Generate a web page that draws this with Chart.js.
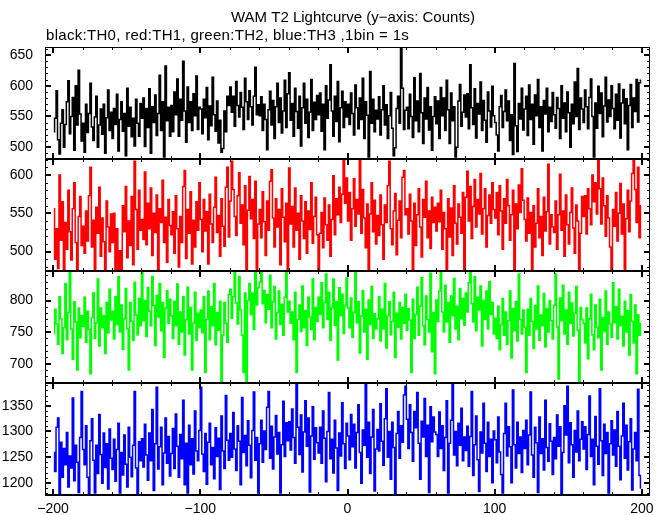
<!DOCTYPE html>
<html><head><meta charset="utf-8">
<script src="https://cdn.jsdelivr.net/npm/chart.js@4/dist/chart.umd.min.js"></script>
<style>html,body{margin:0;padding:0;background:#fff}#wrap{position:relative;width:669px;height:515px}</style>
</head><body><div id="wrap"><canvas id="c" width="669" height="515"></canvas></div>
<script>
const titleText = 'WAM T2 Lightcurve (y\u2212axis: Counts)';
const subtitleText = 'black:TH0, red:TH1, green:TH2, blue:TH3 ,1bin = 1s';
const firstBinStart = -200;
const binSeconds = 1;
const seriesNames = ['TH0', 'TH1', 'TH2', 'TH3'];
const seriesColors = ['#000000', '#ff0000', '#00ff00', '#0000ff'];

const th0 = [
525,547,592,512,489,539,561,500,537,574,608,522,550,581,495,600,536,625,554,510,
539,492,570,524,555,604,533,511,549,583,500,536,562,521,570,490,548,593,527,557,
514,563,537,586,494,545,574,526,555,486,596,534,565,517,547,502,578,539,518,571,
547,580,501,563,532,595,490,566,540,585,519,555,617,527,574,484,632,543,565,518,
568,525,590,553,611,518,578,544,640,559,508,598,540,574,527,587,551,616,529,565,
562,522,578,548,597,512,567,535,614,553,526,575,507,544,492,498,559,525,583,568,
598,557,583,534,607,568,549,589,565,529,612,574,545,592,566,536,583,630,553,569,
551,582,527,570,545,496,561,591,536,576,514,566,604,540,580,523,559,609,532,587,
621,544,571,518,596,558,531,583,502,564,604,539,578,516,557,610,527,573,545,584,
553,588,526,570,496,600,547,577,634,559,518,583,542,607,509,564,591,532,574,549,
570,537,588,555,520,601,564,530,580,545,612,514,574,552,484,623,539,578,525,560,
546,582,520,561,600,536,569,514,551,589,531,486,499,563,583,539,660,596,529,560,
565,530,586,550,516,613,543,575,525,620,556,506,580,546,597,528,566,495,550,582,
538,575,514,597,551,580,527,609,561,506,588,543,566,484,500,575,602,534,557,585,
549,587,530,634,564,537,595,515,571,554,606,527,576,544,508,590,559,533,599,551,
540,520,494,566,584,532,558,593,543,575,511,553,488,636,535,493,571,546,596,528,
562,583,519,601,545,570,505,585,551,610,532,566,494,576,554,596,525,565,542,589,
553,531,581,563,514,600,547,572,525,590,556,500,570,538,606,550,628,529,580,562,
540,593,566,530,581,611,550,484,572,531,599,555,588,517,567,614,541,577,550,600,
563,530,586,544,603,515,572,594,538,579,496,568,602,532,580,558,610,541,605,609];

const th1 = [
556,490,530,478,600,515,565,468,538,503,580,526,489,556,590,512,472,546,572,508,
533,498,553,514,573,610,506,541,472,558,524,584,494,544,513,470,566,532,500,549,
512,550,466,530,470,501,465,560,526,585,492,540,508,572,483,618,555,503,580,528,
542,516,604,509,563,530,583,495,550,525,574,472,556,538,593,512,545,486,568,534,
522,552,498,573,530,480,546,512,585,606,491,555,524,578,484,541,506,565,528,590,
542,500,568,527,552,484,575,536,512,558,597,525,547,494,569,533,507,584,610,519,
566,618,581,546,521,573,603,537,561,509,586,472,554,598,543,568,517,592,474,536,
555,518,578,539,495,566,528,592,607,544,506,569,532,555,483,582,545,513,563,476,
609,536,559,506,583,528,550,490,573,540,517,565,498,553,529,590,511,546,571,522,
472,524,551,505,570,535,515,561,494,542,599,522,569,548,584,538,575,625,563,596,
540,577,515,556,595,533,568,549,624,524,581,544,505,562,468,549,590,526,567,510,
547,521,574,535,490,561,538,586,618,530,509,553,576,496,541,566,518,597,606,548,
556,523,575,540,473,563,508,548,582,532,493,568,545,592,518,553,504,571,538,558,
527,563,539,580,503,551,530,476,569,519,557,495,586,537,510,562,545,524,577,474,
571,605,540,585,517,559,594,532,568,549,602,523,556,582,506,547,574,537,590,555,
544,577,522,586,553,503,569,537,594,560,515,548,580,477,562,530,587,551,608,567,
542,514,570,524,551,474,560,506,537,582,518,546,495,571,527,552,614,510,548,532,
525,566,503,548,601,528,553,494,574,535,510,551,583,531,498,561,540,473,524,572,
546,573,523,582,556,535,600,565,590,549,626,582,536,596,560,520,573,544,506,476,
555,533,577,514,550,589,523,562,472,543,580,526,566,602,625,581,538,610,518,560];

const th2 = [
748,786,763,731,806,771,716,757,827,738,781,844,755,707,798,766,690,788,741,776,
759,805,734,783,754,684,773,812,740,765,834,728,788,757,776,716,797,749,818,769,
783,739,806,762,838,750,793,723,771,819,755,690,797,767,737,829,777,746,803,760,
846,768,800,743,820,783,760,838,792,729,808,774,827,752,797,710,788,816,764,802,
776,740,799,760,826,731,782,750,806,714,770,821,747,789,690,764,813,737,780,757,
785,749,806,686,770,815,738,790,760,827,730,781,753,799,668,745,797,764,734,810,
818,772,806,850,796,763,838,785,745,686,812,672,800,827,778,812,754,848,793,820,
829,850,795,816,765,809,786,840,757,798,822,739,781,815,762,794,745,805,849,782,
799,764,782,738,813,686,770,793,751,823,757,784,729,805,774,754,834,738,789,767,
805,778,828,757,797,842,770,813,737,789,834,761,798,706,820,776,810,748,792,836,
788,757,804,742,781,845,765,798,717,775,816,750,786,707,801,762,822,740,779,755,
771,806,736,786,755,827,725,776,798,746,767,813,710,780,758,797,739,789,764,810,
753,787,769,686,802,740,778,821,745,791,836,760,730,807,770,750,843,719,781,684,
801,767,815,845,782,750,824,766,797,734,807,776,835,755,791,738,819,771,803,761,
812,782,828,850,795,766,838,752,805,785,823,728,800,770,815,755,830,778,797,747,
772,740,791,722,762,803,745,782,731,768,815,709,787,752,798,736,842,770,747,785,
758,686,786,745,803,767,724,792,755,823,737,777,760,811,727,787,750,800,768,739,
792,842,758,676,804,768,824,747,785,731,813,764,796,744,780,822,753,668,789,770,
764,733,788,708,771,810,746,722,793,758,741,802,690,773,751,815,731,782,763,742,
828,765,790,739,818,760,775,728,799,750,784,714,809,767,733,793,684,777,745,764];

const th3 = [
1259,1222,1308,1326,1170,1279,1211,1267,1235,1298,1192,1252,1229,1365,1204,1273,1240,1181,1288,1378,
1265,1235,1311,1211,1172,1282,1325,1244,1180,1273,1218,1333,1255,1199,1297,1230,1276,1188,1305,1248,
1226,1285,1203,1265,1316,1180,1259,1215,1293,1236,1192,1308,1250,1212,1273,1378,1229,1175,1280,1243,
1286,1231,1314,1254,1205,1297,1243,1343,1185,1276,1386,1227,1270,1308,1196,1258,1326,1238,1290,1213,
1257,1306,1228,1334,1271,1211,1294,1247,1361,1196,1277,1180,1312,1235,1286,1217,1340,1262,1243,1302,
1386,1256,1222,1296,1197,1279,1316,1235,1269,1208,1307,1251,1287,1187,1330,1262,1228,1370,1283,1244,
1296,1250,1337,1266,1224,1311,1281,1196,1366,1259,1292,1233,1321,1273,1210,1302,1377,1244,1288,1180,
1276,1322,1240,1301,1265,1347,1378,1248,1310,1227,1289,1331,1256,1298,1180,1274,1359,1251,1317,1282,
1319,1264,1344,1288,1238,1394,1308,1255,1332,1221,1299,1360,1271,1326,1182,1291,1348,1246,1307,1278,
1258,1308,1238,1340,1287,1202,1300,1376,1247,1285,1219,1322,1268,1185,1297,1252,1356,1276,1228,1316,
1291,1245,1333,1270,1314,1229,1298,1352,1259,1199,1303,1273,1393,1250,1318,1218,1289,1343,1184,1266,
1304,1262,1354,1281,1234,1325,1383,1250,1300,1207,1318,1269,1176,1296,1339,1248,1311,1279,1371,1388,
1324,1267,1352,1298,1242,1339,1307,1376,1277,1207,1320,1289,1364,1251,1312,1181,1348,1280,1328,1299,
1294,1251,1338,1267,1311,1224,1288,1360,1180,1277,1322,1394,1254,1300,1233,1316,1273,1345,1243,1289,
1263,1310,1232,1290,1378,1214,1274,1330,1245,1183,1299,1258,1355,1277,1222,1318,1251,1285,1200,1301,
1284,1239,1328,1260,1216,1180,1296,1355,1252,1309,1270,1200,1381,1274,1229,1318,1257,1289,1220,1302,
1267,1322,1235,1293,1377,1254,1211,1308,1278,1181,1328,1257,1286,1225,1361,1269,1242,1315,1281,1216,
1288,1247,1332,1271,1309,1178,1259,1350,1293,1388,1239,1317,1274,1211,1302,1260,1340,1243,1285,1319,
1266,1309,1226,1294,1369,1251,1285,1196,1329,1271,1236,1383,1282,1214,1314,1257,1298,1180,1276,1321,
1254,1303,1232,1339,1271,1206,1291,1355,1248,1312,1225,1280,1325,1186,1266,1298,1243,1382,1214,1190];

const xTickLabels = [-200, -100, 0, 100, 200];
const xMinorStep = 20;
const xAxisRange = [-205.5, 205.5];
const yTickLabels = [[500, 550, 600, 650], [500, 550, 600], [700, 750, 800], [1200, 1250, 1300, 1350]];
const yAxisRanges = [[481, 663], [475, 621], [670, 847], [1177, 1395]];
const yMinorStep = 10;
const yMajorStep = 50;

const allSeries = [th0, th1, th2, th3];
const FONT = '"Liberation Sans", Arial, Helvetica, sans-serif';

function fmt(v) { return v < 0 ? '\u2212' + Math.abs(v) : String(v); }

const datasets = allSeries.map((vals, k) => ({
  label: seriesNames[k],
  data: vals.map((v, i) => ({ x: firstBinStart + (i + 0.5) * binSeconds, y: v })),
  yAxisID: 'y' + k,
  borderColor: seriesColors[k],
  backgroundColor: seriesColors[k],
  borderWidth: 1.5,
  pointRadius: 0,
  stepped: 'middle',
  fill: false,
  tension: 0
}));

const scales = {
  x: {
    type: 'linear', position: 'bottom',
    min: xAxisRange[0], max: xAxisRange[1],
    grid: { display: false, drawTicks: false, tickLength: 0 }, border: { display: false },
    afterBuildTicks: s => { s.ticks = xTickLabels.map(v => ({ value: v })); },
    afterFit: s => { s.height = 19; },
    ticks: { color: '#000', font: { family: FONT, size: 14 }, padding: 6, maxRotation: 0, autoSkip: false,
             callback: v => fmt(v) }
  }
};
yAxisRanges.forEach((r, k) => {
  scales['y' + k] = {
    type: 'linear', position: 'left', stack: 'panels', stackWeight: 1, weight: 4 - k,
    min: r[0], max: r[1], offset: false,
    grid: { display: false, drawTicks: false, tickLength: 0 }, border: { display: false },
    afterBuildTicks: s => { s.ticks = yTickLabels[k].map(v => ({ value: v })); },
    afterFit: s => { s.width = 45; s._computeLabelArea = () => undefined; },
    ticks: { color: '#000', font: { family: FONT, size: 14 }, padding: 12, autoSkip: false,
             callback: v => String(v) }
  };
});

const framePlugin = {
  id: 'frame',
  beforeDatasetDraw(chart, args) {
    const ys = chart.getDatasetMeta(args.index).yScale;
    const ca = chart.chartArea, ctx = chart.ctx;
    ctx.save();
    ctx.beginPath();
    ctx.rect(ca.left, ys.top, ca.right - ca.left, ys.bottom - ys.top);
    ctx.clip();
  },
  afterDatasetDraw(chart) { chart.ctx.restore(); },
  afterDatasetsDraw(chart) {
    const ctx = chart.ctx, ca = chart.chartArea, xs = chart.scales.x;
    ctx.save();
    ctx.strokeStyle = '#000';
    yAxisRanges.forEach((r, k) => {
      const ys = chart.scales['y' + k];
      const top = Math.round(ys.top), bot = Math.round(ys.bottom);
      const L = Math.round(ca.left), R = Math.round(ca.right);
      ctx.lineWidth = 1;
      ctx.beginPath();
      ctx.moveTo(L, top + 0.5); ctx.lineTo(R, top + 0.5);
      ctx.moveTo(L, bot - 0.5); ctx.lineTo(R, bot - 0.5);
      ctx.moveTo(L + 0.5, top); ctx.lineTo(L + 0.5, bot);
      ctx.moveTo(R - 0.5, top); ctx.lineTo(R - 0.5, bot);
      if (k === yAxisRanges.length - 1) { ctx.moveTo(L, bot + 0.5); ctx.lineTo(R, bot + 0.5); }
      ctx.stroke();
      for (let v = xTickLabels[0]; v <= xTickLabels[xTickLabels.length - 1]; v += xMinorStep) {
        const major = v % 100 === 0;
        const px = Math.round(xs.getPixelForValue(v));
        const len = major ? 6 : 3;
        ctx.lineWidth = major ? 2 : 1;
        const off = major ? 0 : 0.5;
        ctx.beginPath();
        ctx.moveTo(px + off, top); ctx.lineTo(px + off, top + len);
        ctx.moveTo(px + off, bot); ctx.lineTo(px + off, bot - len);
        ctx.stroke();
      }
      const start = Math.ceil(r[0] / yMinorStep) * yMinorStep;
      for (let v = start; v <= r[1]; v += yMinorStep) {
        const major = v % yMajorStep === 0;
        const py = Math.round(ys.getPixelForValue(v));
        const len = major ? 6 : 3;
        ctx.lineWidth = major ? 2 : 1;
        const off = major ? 0 : 0.5;
        ctx.beginPath();
        ctx.moveTo(L, py + off); ctx.lineTo(L + len, py + off);
        ctx.moveTo(R, py + off); ctx.lineTo(R - len, py + off);
        ctx.stroke();
      }
    });
    ctx.restore();
  },
  afterDraw(chart) {
    const ctx = chart.ctx;
    ctx.save();
    ctx.fillStyle = '#000';
    ctx.font = '15px ' + FONT;
    ctx.textBaseline = 'alphabetic';
    ctx.textAlign = 'center';
    ctx.fillText(titleText, 353, 22);
    ctx.textAlign = 'left';
    try { ctx.letterSpacing = '0.3px'; } catch (e) {}
    ctx.fillText(subtitleText, 46, 40);
    ctx.restore();
  }
};

new Chart(document.getElementById('c'), {
  type: 'line',
  data: { datasets },
  options: {
    responsive: false, animation: false, devicePixelRatio: 1,
    layout: { padding: { top: 47, right: 19, left: 0, bottom: 0 } },
    plugins: { legend: { display: false }, tooltip: { enabled: false }, title: { display: false } },
    scales
  },
  plugins: [framePlugin]
});
</script></body></html>
